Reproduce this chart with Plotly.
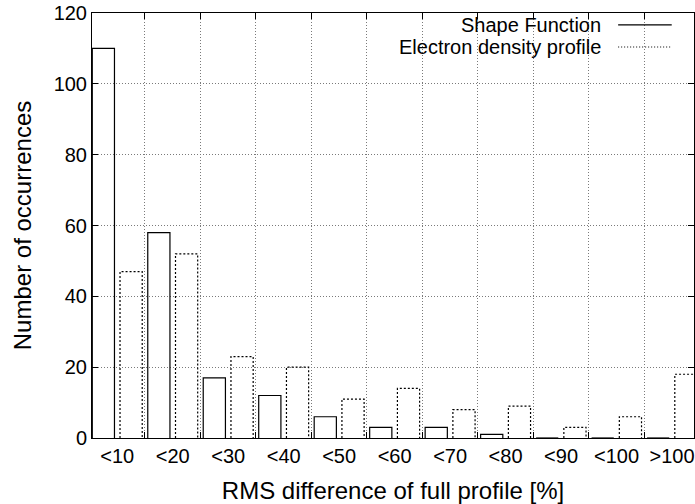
import plotly.graph_objects as go

categories = ["<10", "<20", "<30", "<40", "<50", "<60", "<70", "<80", "<90", "<100", ">100"]
shape_function = [110, 58, 17, 12, 6, 3, 3, 1, 0, 0, 0]
electron_density = [47, 52, 23, 20, 11, 14, 8, 9, 3, 6, 18]
series_names = ["Shape Function", "Electron density profile"]
y_ticks = [0, 20, 40, 60, 80, 100, 120]

FONT = "Liberation Sans"
FS = 20
GRID_DASH = "1px,2px"


def bar_outline(values, lo, hi):
    xs, ys = [], []
    for i, v in enumerate(values):
        xs += [i + lo, i + lo, i + hi, i + hi, None]
        ys += [0, v, v, 0, None]
    return xs, ys


fig = go.Figure()
x1, y1 = bar_outline(shape_function, -0.45, -0.05)
x2, y2 = bar_outline(electron_density, 0.05, 0.45)
fig.add_trace(go.Scatter(x=x1, y=y1, mode="lines", name=series_names[0],
                         line=dict(color="black", width=1.2), showlegend=False))
fig.add_trace(go.Scatter(x=x2, y=y2, mode="lines", name=series_names[1],
                         line=dict(color="black", width=1.2, dash="2px,2px"), showlegend=False))

fig.update_layout(
    width=695, height=504,
    margin=dict(l=92, r=1, t=13, b=66),
    paper_bgcolor="white", plot_bgcolor="white",
    font=dict(family=FONT, size=FS, color="black"),
    xaxis=dict(
        range=[-0.455, 10.396],
        tickmode="array", tickvals=list(range(len(categories))), ticktext=categories,
        ticks="", showgrid=False, zeroline=False,
        showline=True, linecolor="black", linewidth=1, mirror="ticks",
        minor=dict(tick0=0.5, dtick=1, ticks="inside", ticklen=6, tickcolor="black",
                   showgrid=True, gridcolor="#7a7a7a", griddash=GRID_DASH, gridwidth=1),
        title=dict(text="RMS difference of full profile [%]", standoff=20),
        tickfont=dict(size=FS),
    ),
    yaxis=dict(
        range=[0, 120], tickmode="array", tickvals=y_ticks,
        ticks="inside", ticklen=6, tickcolor="black",
        showgrid=True, gridcolor="#7a7a7a", griddash=GRID_DASH, gridwidth=1,
        zeroline=False, showline=True, linecolor="black", linewidth=1, mirror="ticks",
        title=dict(text="Number of occurrences", standoff=15),
        tickfont=dict(size=FS),
    ),
)

# key box (opaque, gnuplot style: text right-aligned, sample on the right)
fig.add_shape(type="rect", xref="paper", yref="paper", x0=0.41, x1=0.998, y0=0.889, y1=0.984,
              fillcolor="white", line=dict(width=0), layer="between")
key_rows = [0.972, 0.92]
dashes = ["solid", "1px,2px"]
for name, yy, dsh in zip(series_names, key_rows, dashes):
    fig.add_annotation(xref="paper", yref="paper", x=0.849, y=yy, text=name, showarrow=False,
                       xanchor="right", yanchor="middle", font=dict(size=FS, family=FONT))
    fig.add_shape(type="line", xref="paper", yref="paper", x0=0.874, x1=0.963, y0=yy, y1=yy,
                  line=dict(color="black", width=1.2, dash=dsh))

fig.write_html("out.html")
